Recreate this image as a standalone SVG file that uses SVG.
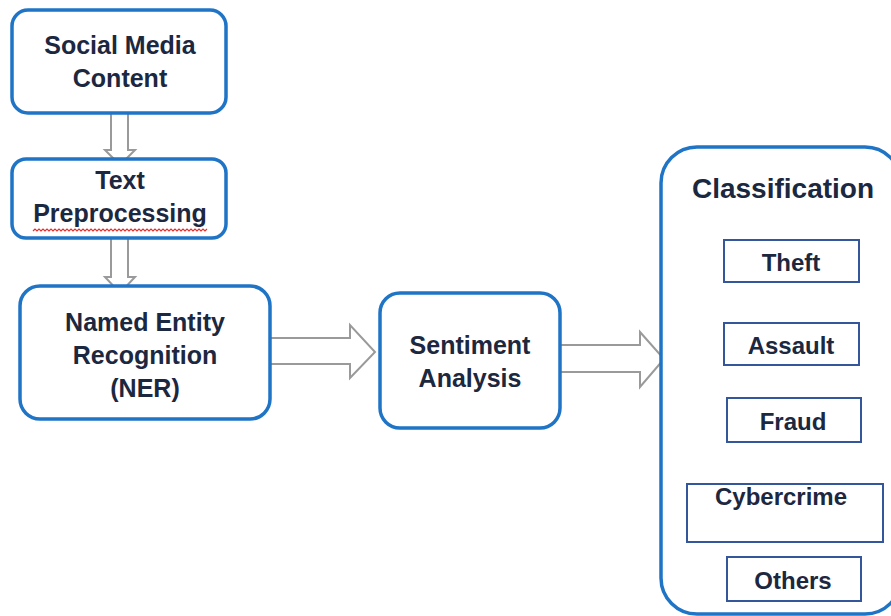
<svg xmlns="http://www.w3.org/2000/svg" width="891" height="616" viewBox="0 0 891 616">
  <style>
    .node { fill: #ffffff; stroke: #1f74c6; stroke-width: 3.5; }
    .cat { fill: #ffffff; stroke: #34569a; stroke-width: 2; }
    .lbl { font-family: "Liberation Sans", Arial, sans-serif; font-weight: bold; fill: #1c2740; text-anchor: middle; }
    .main { font-size: 25px; }
    .small { font-size: 24px; }
    .arrow { fill: #ffffff; stroke: #9a9a9a; stroke-width: 2; stroke-linejoin: miter; }
  </style>
  <rect width="891" height="616" fill="#ffffff"/>

  <!-- block arrows -->
  <g id="connectors">
    <polygon class="arrow" points="111,113 128,113 128,150 135,150 120,165 105,150 111,150"/>
    <polygon class="arrow" points="111,238 128,238 128,277 135,277 120,293 105,277 111,277"/>
    <polygon class="arrow" points="270,338 350,338 350,325 375,352 350,378 350,364 270,364"/>
    <polygon class="arrow" points="560,345 640,345 640,332 664,359 640,387 640,372 560,372"/>
  </g>

  <g id="social-media-content">
    <rect class="node" x="12" y="10" width="214" height="103" rx="16"/>
    <text class="lbl main" x="120" y="54">Social Media</text>
    <text class="lbl main" x="120" y="87">Content</text>
  </g>

  <g id="text-preprocessing">
    <rect class="node" x="12" y="159" width="214" height="79" rx="14"/>
    <text class="lbl main" x="120" y="189">Text</text>
    <text class="lbl main" x="120" y="222">Preprocessing</text>
    <!-- spell-check squiggle -->
    <polyline fill="none" stroke="#e03030" stroke-width="1.2" points="33,231 35,229 37,231 39,229 41,231 43,229 45,231 47,229 49,231 51,229 53,231 55,229 57,231 59,229 61,231 63,229 65,231 67,229 69,231 71,229 73,231 75,229 77,231 79,229 81,231 83,229 85,231 87,229 89,231 91,229 93,231 95,229 97,231 99,229 101,231 103,229 105,231 107,229 109,231 111,229 113,231 115,229 117,231 119,229 121,231 123,229 125,231 127,229 129,231 131,229 133,231 135,229 137,231 139,229 141,231 143,229 145,231 147,229 149,231 151,229 153,231 155,229 157,231 159,229 161,231 163,229 165,231 167,229 169,231 171,229 173,231 175,229 177,231 179,229 181,231 183,229 185,231 187,229 189,231 191,229 193,231 195,229 197,231 199,229 201,231 203,229 205,231 207,229"/>
  </g>

  <g id="named-entity-recognition">
    <rect class="node" x="20" y="286" width="250" height="133" rx="20"/>
    <text class="lbl main" x="145" y="331">Named Entity</text>
    <text class="lbl main" x="145" y="364">Recognition</text>
    <text class="lbl main" x="145" y="397">(NER)</text>
  </g>

  <g id="sentiment-analysis">
    <rect class="node" x="380" y="293" width="180" height="135" rx="20"/>
    <text class="lbl main" x="470" y="354">Sentiment</text>
    <text class="lbl main" x="470" y="387">Analysis</text>
  </g>

  <g id="classification">
    <rect class="node" x="661" y="147" width="240" height="467" rx="36"/>
    <text class="lbl" font-size="28" x="783" y="198">Classification</text>
  </g>

  <g id="theft">
    <rect class="cat" x="724" y="240" width="135" height="42"/>
    <text class="lbl small" x="791" y="271">Theft</text>
  </g>
  <g id="assault">
    <rect class="cat" x="724" y="323" width="135" height="42"/>
    <text class="lbl small" x="791" y="354">Assault</text>
  </g>
  <g id="fraud">
    <rect class="cat" x="727" y="398" width="134" height="44"/>
    <text class="lbl small" x="793" y="430">Fraud</text>
  </g>
  <g id="cybercrime">
    <rect class="cat" x="687" y="484" width="196" height="58"/>
    <text class="lbl small" x="781" y="505">Cybercrime</text>
  </g>
  <g id="others">
    <rect class="cat" x="727" y="557" width="134" height="44"/>
    <text class="lbl small" x="793" y="589">Others</text>
  </g>
</svg>
